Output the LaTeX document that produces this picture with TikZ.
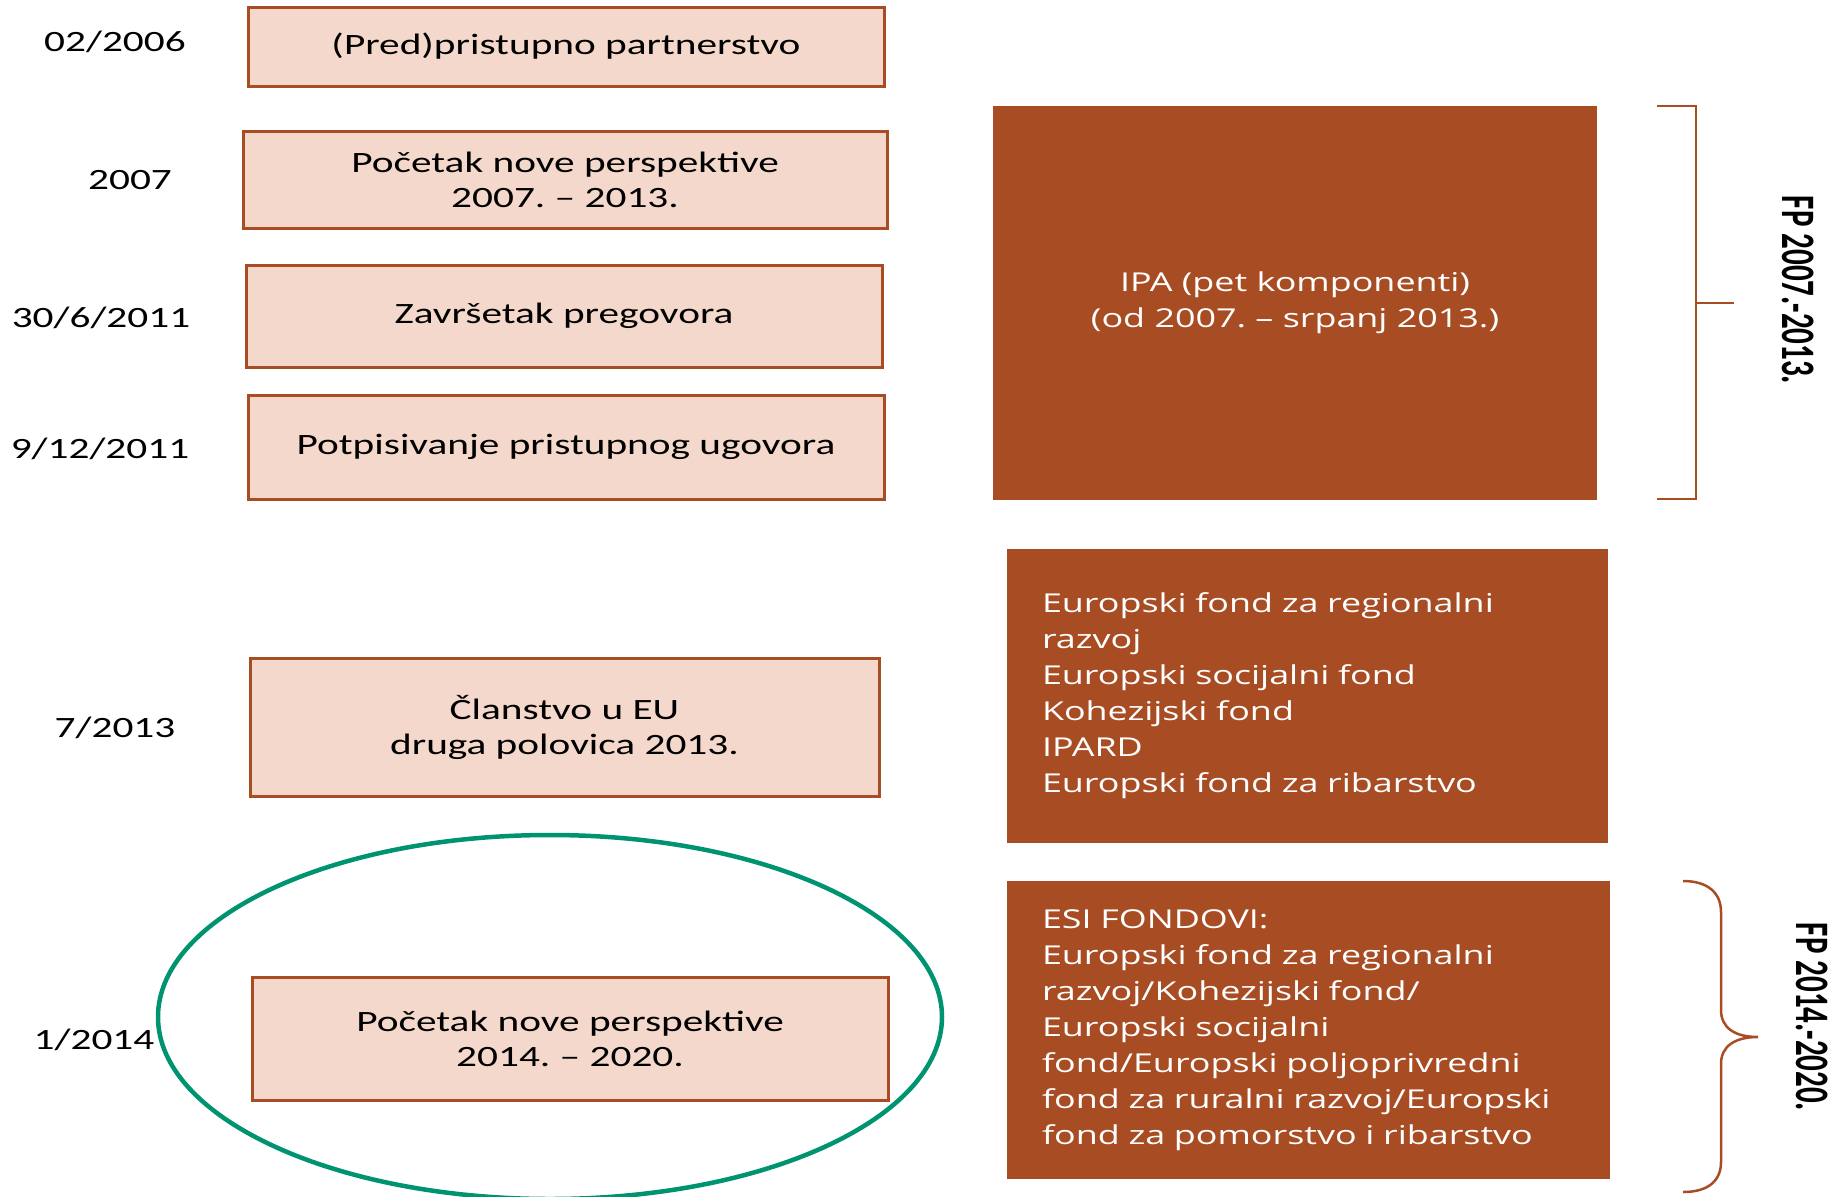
\documentclass[tikz,border=0pt]{standalone}
\usepackage{fontspec}
\setmainfont{Carlito}[FakeStretch=1.4]
\newfontfamily\fundfont{Open Sans}[FakeStretch=1.38]
\newfontfamily\fpfont{Carlito}

\definecolor{boxfill}{HTML}{F4D8CB}
\definecolor{rust}{HTML}{A84C24}
\definecolor{ovalgreen}{HTML}{00936F}

\begin{document}
\frenchspacing
\begin{tikzpicture}[
            x=1pt, y=-1pt, % one unit is one pixel of the 1840x1197 page
            every node/.style={font=\fontsize{29.5}{35}\selectfont},
            stage/.style={draw=rust, line width=3pt, fill=boxfill, align=center, inner sep=0pt},
            fund/.style={fill=rust, text=white, font=\fundfont\fontsize{26}{36}\selectfont, inner ysep=0pt},
            fplabel/.style={rotate=-90, yscale=1.55, font=\fpfont\bfseries\fontsize{31}{31}\selectfont}
        ]

            % 1. Page frame
            \useasboundingbox (0,0) rectangle (1840,1197);

            % 2. Dates on the left
            \node (d2006) at (115,42) {02/2006};
            \node (d2007) at (130,180) {2007};
            \node (d2011a) at (101,318) {30/6/2011};
            \node (d2011b) at (100,449) {9/12/2011};
            \node (d2013) at (115,728) {7/2013};
            \node (d2014) at (94,1040) {1/2014};

            % 3. Stage boxes
            \node[stage, minimum width=636, minimum height=79] (pred) at (566,46.5) {(Pred)pristupno partnerstvo};
            \node[stage, minimum width=644, minimum height=97] (start07) at (565,179.5) {Početak nove perspektive\\2007. – 2013.};
            \node[stage, minimum width=636, minimum height=102] (talks) at (564,316) {Završetak pregovora};
            \node[stage, minimum width=636, minimum height=104] (treaty) at (566,447) {Potpisivanje pristupnog ugovora};
            \node[stage, minimum width=629, minimum height=138] (member) at (564.5,727) {Članstvo u EU\\druga polovica 2013.};
            \node[stage, minimum width=636, minimum height=123] (start14) at (570,1038.5) {Početak nove perspektive\\2014. – 2020.};

            % 4. Oval round the new period
            \draw[ovalgreen, line width=4.5pt] (550,1017) ellipse [x radius=392, y radius=182];

            % 5. Fund boxes on the right
            \node[fund, align=center, minimum width=604, minimum height=394] (ipa) at (1295,303)
                {IPA (pet komponenti)\\(od 2007. – srpanj 2013.)};
            \node[fund, align=left, text width=531, inner xsep=35, minimum height=294] (funds) at (1307.5,696)
                {Europski fond za regionalni\\razvoj\\Europski socijalni fond\\Kohezijski fond\\IPARD\\Europski fond za ribarstvo};
            \node[fund, align=left, text width=533, inner xsep=35, minimum height=298] (esi) at (1308.5,1030)
                {ESI FONDOVI:\\Europski fond za regionalni\\razvoj/Kohezijski fond/\\Europski socijalni\\fond/Europski poljoprivredni\\fond za ruralni razvoj/Europski\\fond za pomorstvo i ribarstvo};

            % 6. Bracket and brace with the periods
            \draw[rust, line width=2.5pt]
                (1657,106) -- (1696,106) -- (1696,499) -- (1657,499) % square bracket
                (1696,303) -- (1734,303); % middle tick
            \draw[rust, line width=2.5pt]
                (1683,881) .. controls (1708,881) and (1721,893) .. (1721,912) -- (1721,1010)
                .. controls (1721,1028) and (1735,1037) .. (1758,1037)
                .. controls (1735,1037) and (1721,1046) .. (1721,1064) -- (1721,1162)
                .. controls (1721,1181) and (1708,1192) .. (1683,1192);

            \node[fplabel] (fpold) at (1798,290) {FP 2007.-2013.};
            \node[fplabel] (fpnew) at (1812,1017) {FP 2014.-2020.};

        \end{tikzpicture}
\end{document}
